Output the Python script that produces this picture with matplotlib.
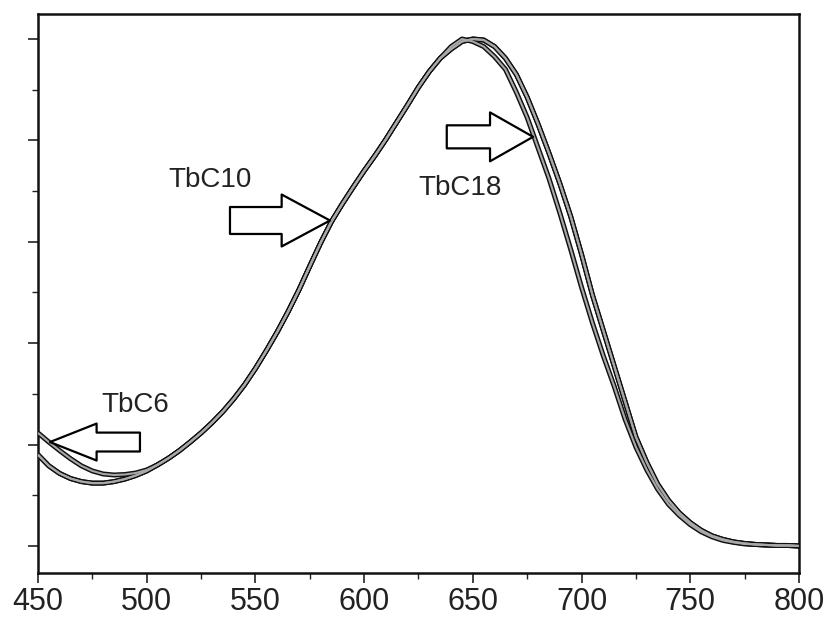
import matplotlib
matplotlib.use("Agg")
import matplotlib.pyplot as plt
from matplotlib.ticker import MultipleLocator, NullFormatter

plt.rcParams['font.family'] = ['Liberation Sans', 'DejaVu Sans']

# ---- data ----
wavelength = [450, 455, 460, 465, 470, 475, 480, 485, 490, 495,
              500, 505, 510, 515, 520, 525, 530, 535, 540, 545,
              550, 555, 560, 565, 570, 575, 580, 585, 590, 595,
              600, 605, 610, 615, 620, 625, 630, 635, 640, 645,
              650, 655, 660, 665, 670, 675, 680, 685, 690, 695,
              700, 705, 710, 715, 720, 725, 730, 735, 740, 745,
              750, 755, 760, 765, 770, 775, 780, 785, 790, 795, 800]

tbc6 = [0.223, 0.205, 0.188, 0.172, 0.158, 0.148, 0.142, 0.140, 0.141, 0.144,
        0.150, 0.160, 0.173, 0.188, 0.205, 0.223, 0.243, 0.265, 0.290, 0.318,
        0.350, 0.385, 0.422, 0.462, 0.505, 0.552, 0.598, 0.640, 0.675, 0.708,
        0.740, 0.770, 0.802, 0.836, 0.870, 0.905, 0.936, 0.962, 0.980, 0.995,
        1.000, 0.998, 0.985, 0.962, 0.930, 0.885, 0.832, 0.775, 0.715, 0.650,
        0.575, 0.495, 0.425, 0.355, 0.285, 0.215, 0.165, 0.122, 0.090, 0.065,
        0.046, 0.031, 0.020, 0.013, 0.008, 0.005, 0.003, 0.002, 0.001, 0.001, 0.000]

tbc10 = [0.180, 0.158, 0.143, 0.133, 0.127, 0.124, 0.124, 0.127, 0.132, 0.139,
         0.148, 0.160, 0.173, 0.188, 0.205, 0.223, 0.243, 0.265, 0.290, 0.318,
         0.350, 0.385, 0.422, 0.462, 0.505, 0.552, 0.598, 0.640, 0.675, 0.708,
         0.740, 0.770, 0.802, 0.836, 0.870, 0.905, 0.936, 0.962, 0.980, 0.995,
         1.000, 0.998, 0.985, 0.962, 0.930, 0.885, 0.832, 0.775, 0.715, 0.650,
         0.575, 0.495, 0.425, 0.355, 0.285, 0.215, 0.165, 0.122, 0.090, 0.065,
         0.046, 0.031, 0.020, 0.013, 0.008, 0.005, 0.003, 0.002, 0.001, 0.001, 0.000]

tbc18 = [0.180, 0.158, 0.143, 0.133, 0.127, 0.124, 0.124, 0.127, 0.132, 0.139,
         0.148, 0.160, 0.173, 0.188, 0.205, 0.223, 0.243, 0.265, 0.290, 0.318,
         0.350, 0.385, 0.422, 0.462, 0.505, 0.552, 0.598, 0.640, 0.675, 0.708,
         0.740, 0.770, 0.802, 0.836, 0.870, 0.905, 0.936, 0.962, 0.985, 1.000,
         0.995, 0.985, 0.965, 0.940, 0.895, 0.845, 0.785, 0.725, 0.657, 0.585,
         0.510, 0.440, 0.375, 0.315, 0.250, 0.195, 0.150, 0.112, 0.082, 0.060,
         0.042, 0.028, 0.018, 0.011, 0.007, 0.004, 0.003, 0.002, 0.001, 0.001, 0.000]

series = [("TbC6", tbc6), ("TbC10", tbc10), ("TbC18", tbc18)]

x_ticks = [450, 500, 550, 600, 650, 700, 750, 800]

# annotation labels: (text, text_x, text_y, tip_x, tip_y, tail_x, tail_y, tail_w, head_w, head_l)
labels = [
    ("TbC6", 494.6, 0.278, 455.5, 0.205, 496.9, 0.205, 0.68, 1.33, 1.68),
    ("TbC10", 529.0, 0.722, 584.3, 0.642, 538.3, 0.642, 0.97, 1.87, 1.74),
    ("TbC18", 644.0, 0.706, 677.7, 0.807, 638.0, 0.807, 0.83, 1.76, 1.55),
]

# ---- figure ----
fig = plt.figure(figsize=(8.31, 6.25), dpi=100)
ax = fig.add_axes([0.0457, 0.0832, 0.9158, 0.8944])

for name, vals in series:
    ax.plot(wavelength, vals, color='#111111', lw=3.6, solid_capstyle='butt', zorder=2)
for name, vals in series:
    ax.plot(wavelength, vals, color='#a8a8a8', lw=1.5, solid_capstyle='butt', zorder=3)

for text, tx, ty, hx, hy, sx, sy, tw, hw, hl in labels:
    ax.text(tx, ty, text, fontsize=20, color='#222222', ha='center', va='center')
    ax.annotate('', xy=(hx, hy), xytext=(sx, sy),
                arrowprops=dict(arrowstyle=f'simple,head_length={hl},head_width={hw},tail_width={tw}',
                                fc='white', ec='black', lw=1.6, shrinkA=0, shrinkB=0,
                                mutation_scale=20),
                zorder=5)

ax.set_xlim(450, 800)
ax.set_ylim(-0.0533, 1.0493)
ax.set_xticks(x_ticks)
ax.set_xticklabels([str(v) for v in x_ticks])
ax.xaxis.set_minor_locator(MultipleLocator(25))
ax.yaxis.set_major_locator(MultipleLocator(0.2))
ax.yaxis.set_minor_locator(MultipleLocator(0.1))
ax.yaxis.set_major_formatter(NullFormatter())

ax.tick_params(axis='both', which='major', direction='out', length=7, width=1.2, color='#222222')
ax.tick_params(axis='both', which='minor', direction='out', length=4, width=1.0, color='#222222')
ax.tick_params(axis='x', labelsize=22, labelcolor='#222222', pad=3)
ax.tick_params(top=False, right=False, which='both')

for sp in ax.spines.values():
    sp.set_linewidth(1.8)
    sp.set_color('#111111')

fig.savefig("out.png", dpi=100)
